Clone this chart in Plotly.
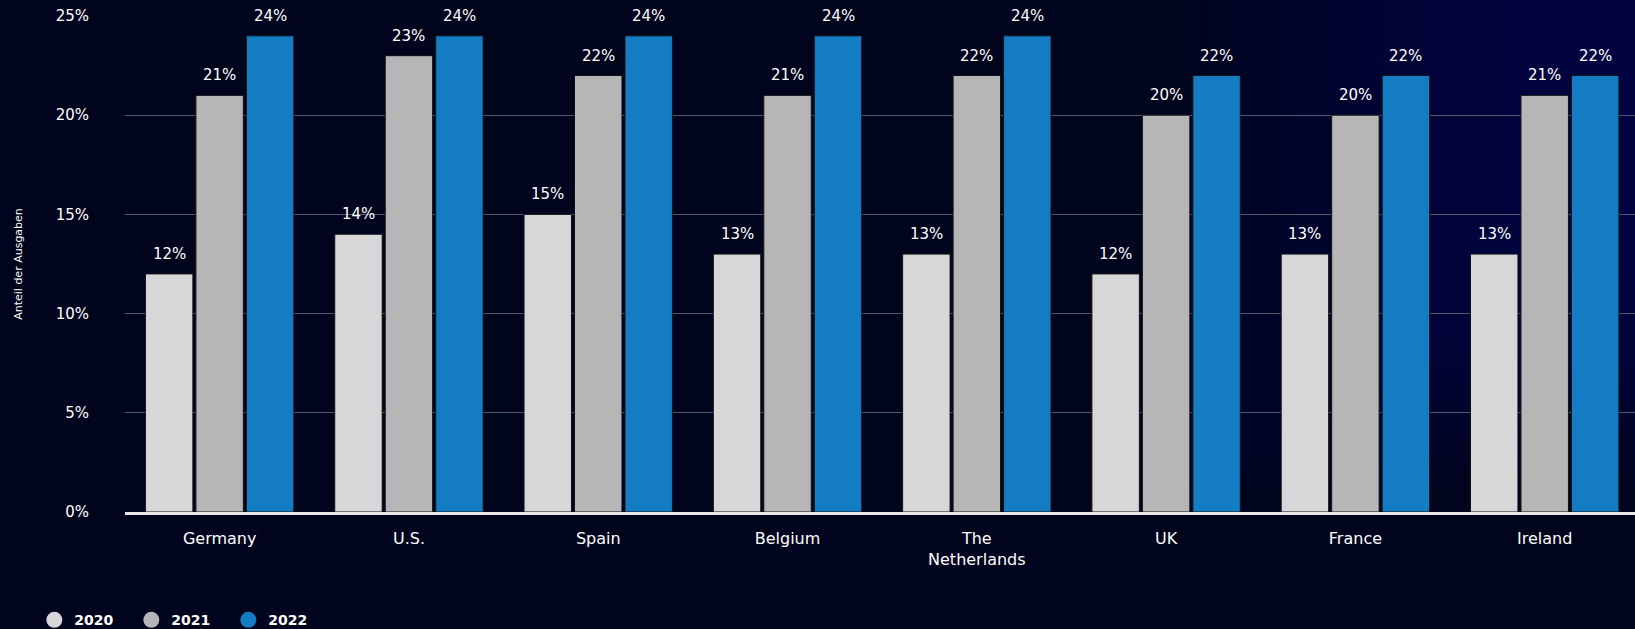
import plotly.graph_objects as go

countries = ["Germany", "U.S.", "Spain", "Belgium", "The<br>Netherlands", "UK", "France", "Ireland"]
years = ["2020", "2021", "2022"]
v2020 = [12, 14, 15, 13, 13, 12, 13, 13]
v2021 = [21, 23, 22, 21, 22, 20, 20, 21]
v2022 = [24, 24, 24, 24, 24, 22, 22, 22]
series = [v2020, v2021, v2022]
colors = ["#d7d7d7", "#b6b6b6", "#147cc3"]
y_ticks = [0, 5, 10, 15, 20, 25]

BG = "#01041d"
FONT = "DejaVu Sans"

W, H = 1635, 629
ML, MR, MT, MB = 125, 0, 16, 117
XR = [-0.5, 7.477]
BARGAP = 0.2

fig = go.Figure()

# soft blue glow on the right side of the background
N = 24
for i in range(N):
    x0 = 0.70 + i * 0.012
    y0 = 0.05 + i * 0.022
    fig.add_shape(type="rect", xref="paper", yref="paper", x0=x0, x1=1.01, y0=y0, y1=1.05,
                  fillcolor="rgba(30,50,175,0.018)", line_width=0, layer="below")

px_per_cat = (W - ML - MR) / (XR[1] - XR[0])
slot = (1 - BARGAP) / len(series) * px_per_cat

for k, (name, vals, col) in enumerate(zip(years, series, colors)):
    fig.add_trace(go.Bar(
        x=countries, y=vals, name=name, showlegend=False,
        marker=dict(color=col, line=dict(color="#111318", width=1)),
    ))
    fig.add_trace(go.Scatter(
        x=[None], y=[None], mode="markers", name=name,
        marker=dict(color=col, size=18, symbol="circle"),
    ))
    shift = (k - (len(series) - 1) / 2) * slot
    for c, v in zip(countries, vals):
        fig.add_annotation(x=c, y=v, text=f"{v}%", showarrow=False,
                           xshift=shift, yshift=20, yanchor="middle",
                           font=dict(family=FONT, size=15, color="#ffffff"))

fig.update_layout(
    width=W, height=H,
    margin=dict(l=ML, r=MR, t=MT, b=MB),
    paper_bgcolor=BG, plot_bgcolor="rgba(0,0,0,0)",
    barmode="group", bargap=BARGAP, bargroupgap=0.06,
    font=dict(family=FONT, color="#ffffff"),
    legend=dict(
        orientation="h", xref="container", yref="container",
        x=0.021, y=0.014, xanchor="left", yanchor="middle",
        font=dict(family=FONT, size=14, color="#ffffff", weight="bold"),
        entrywidth=52, itemsizing="trace", bgcolor="rgba(0,0,0,0)",
    ),
)
fig.update_xaxes(
    range=XR, showgrid=False,
    showline=True, linecolor="#e6e6e6", linewidth=2.5,
    tickfont=dict(family=FONT, size=16, color="#ffffff"),
    ticklabelstandoff=10, zeroline=False,
)
fig.update_yaxes(
    range=[0, 25], tickvals=y_ticks, ticktext=[f"{t}%" for t in y_ticks],
    showgrid=True, gridcolor="#55576a", gridwidth=1, zeroline=False,
    tickfont=dict(family=FONT, size=15, color="#ffffff"),
    ticklabelstandoff=35,
    title=dict(text="Anteil der Ausgaben", font=dict(family=FONT, size=11, color="#ffffff"), standoff=30),
)

fig.write_html("out.html")
